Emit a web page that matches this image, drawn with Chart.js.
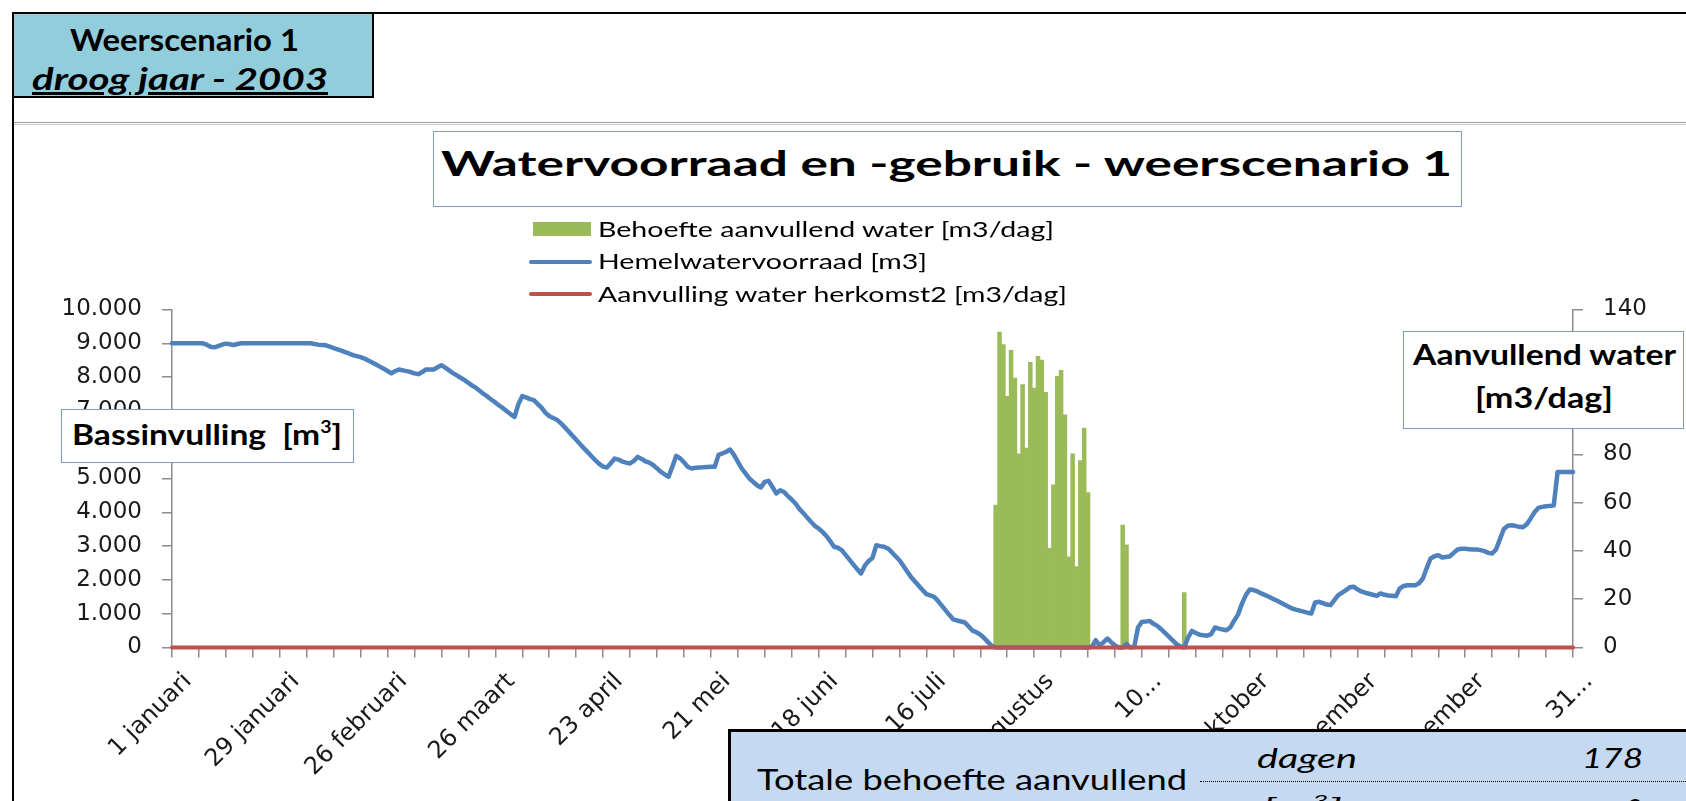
<!DOCTYPE html>
<html><head><meta charset="utf-8">
<script src="https://cdn.jsdelivr.net/npm/chart.js@4.4.1/dist/chart.umd.min.js"></script>
<style>
html,body{margin:0;padding:0;background:#fff;}
body{width:1686px;height:801px;position:relative;overflow:hidden;font-family:Lato,"Noto Sans",sans-serif;}
#c{position:absolute;left:0;top:0;width:1686px;height:801px;}
.abs{position:absolute;box-sizing:border-box;}
.t{position:absolute;white-space:nowrap;line-height:1;transform-origin:0 0;color:#000;}
.b{font-weight:700;}
.i{font-style:italic;}
sup{font-size:58%;line-height:0;vertical-align:0.75em;}
.box{position:absolute;box-sizing:border-box;background:#fff;border:1.5px solid #7C9BCB;}
</style></head><body>
<canvas id="c" width="1686" height="801"></canvas>

<!-- sheet frame -->
<div class="abs" style="left:12px;top:12px;width:1674px;height:2px;background:#000"></div>
<div class="abs" style="left:12px;top:12px;width:2px;height:789px;background:#000"></div>
<div class="abs" style="left:14px;top:122px;width:1672px;height:1px;background:#9C9C9C"></div>
<div class="abs" style="left:14px;top:124px;width:1672px;height:1px;background:#C8C8C8"></div>

<!-- scenario box -->
<div class="abs" style="left:12px;top:12px;width:362px;height:86px;border:2px solid #000;background:#92CDDC"></div>
<span class="t b" style="font-size:31px" data-x="70" data-b="51" data-w="229">Weerscenario 1</span>
<span class="t b i" style="font-size:30px;text-decoration:underline" data-x="32" data-b="89.5" data-w="296">droog jaar - 2003</span>

<!-- title -->
<div class="box" style="left:433px;top:131px;width:1029px;height:76px"></div>
<span class="t b" style="font-size:35px" data-x="441" data-b="175.5" data-w="1011">Watervoorraad en -gebruik - weerscenario 1</span>

<!-- legend -->
<div class="abs" style="left:532.5px;top:222px;width:58px;height:14px;background:#9BBB59"></div>
<div class="abs" style="left:529px;top:259.5px;width:63px;height:4px;background:#4F81BD;border-radius:2px"></div>
<div class="abs" style="left:529px;top:292px;width:63px;height:4px;background:#C0504D;border-radius:2px"></div>
<span class="t" style="font-size:21px" data-x="598" data-b="236.7" data-w="456">Behoefte aanvullend water [m3/dag]</span>
<span class="t" style="font-size:21px" data-x="598" data-b="269.2" data-w="329">Hemelwatervoorraad [m3]</span>
<span class="t" style="font-size:21px" data-x="598" data-b="301.7" data-w="469">Aanvulling water herkomst2 [m3/dag]</span>

<!-- axis titles -->
<div class="box" style="left:61px;top:409px;width:293px;height:54px"></div>
<span class="t b" style="font-size:28px" data-x="71.7" data-b="445" data-w="270">Bassinvulling&nbsp; [m<sup>3</sup>]</span>
<div class="box" style="left:1403px;top:331px;width:281px;height:98px"></div>
<span class="t b" style="font-size:28px" data-x="1413" data-b="365" data-w="263">Aanvullend water</span>
<span class="t b" style="font-size:28px" data-x="1475" data-b="408" data-w="138">[m3/dag]</span>

<!-- summary table -->
<div class="abs" style="left:728px;top:729px;width:960px;height:80px;border-top:3px solid #000;border-left:3px solid #000;background:#C5D9F1"></div>
<div class="abs" style="left:1200px;top:781px;width:486px;height:0;border-top:1.5px dotted #000"></div>
<span class="t" style="font-size:28px" data-x="757" data-b="790" data-w="430">Totale behoefte aanvullend</span>
<span class="t i" style="font-size:27px" data-x="1257" data-b="767.5" data-w="100">dagen</span>
<span class="t i" style="font-size:27px" data-x="1582" data-b="767.5" data-w="61">178</span>
<span class="t i" style="font-size:26px" data-x="1262" data-b="817" data-w="80">[m<sup>3</sup>]</span>
<span class="t i" style="font-size:26px" data-x="1626" data-b="817" data-w="16">0</span>

<script>
// ---------- data ----------
const monthNames = ['januari','februari','maart','april','mei','juni','juli','augustus','september','oktober','november','december'];
const monthDays = [31,28,31,30,31,30,31,31,30,31,30,31];
const categories = [];
monthNames.forEach((m, mi) => { for (let d = 1; d <= monthDays[mi]; d++) categories.push(d + ' ' + m); });

const tickLabels = ['1 januari','29 januari','26 februari','26 maart','23 april','21 mei','18 juni','16 juli','13 augustus','10...','8 oktober','5 november','3 december','31...'];

const seriesNames = ['Behoefte aanvullend water [m3/dag]','Hemelwatervoorraad [m3]','Aanvulling water herkomst2 [m3/dag]'];

// Hemelwatervoorraad [m3], one value per day
const hemelwatervoorraad = [
 9000,9000,9000,9000,9000,9000,9000,9000,9000,8960,
 8900,8880,8920,8960,8990,8970,8950,8980,9000,9000,
 9000,9000,9000,9000,9000,9000,9000,9000,9000,9000,
 9000,9000,9000,9000,9000,9000,9000,8980,8960,8950,
 8940,8900,8860,8820,8780,8740,8700,8650,8620,8590,
 8550,8490,8430,8370,8310,8250,8180,8110,8180,8226,
 8200,8176,8150,8110,8087,8150,8226,8226,8226,8290,
 8353,8280,8200,8120,8050,7980,7909,7830,7750,7680,
 7590,7500,7420,7330,7250,7160,7080,6990,6900,6823,
 7200,7436,7400,7350,7318,7210,7100,6950,6850,6790,
 6740,6640,6520,6400,6270,6150,6020,5900,5780,5660,
 5540,5430,5350,5326,5450,5590,5560,5500,5470,5444,
 5520,5640,5580,5510,5470,5400,5300,5200,5120,5048,
 5350,5670,5600,5480,5350,5297,5320,5326,5330,5340,
 5345,5345,5700,5740,5790,5858,5700,5500,5300,5150,
 5000,4900,4800,4734,4900,4930,4750,4557,4654,4600,
 4480,4380,4260,4100,3980,3850,3720,3600,3520,3420,
 3300,3150,2980,2950,2880,2740,2600,2460,2320,2190,
 2420,2560,2650,3027,3000,2980,2930,2820,2700,2583,
 2420,2250,2089,1960,1830,1700,1580,1540,1500,1380,
 1240,1100,960,830,800,770,740,620,500,450,
 380,280,160,50,0,0,0,0,0,0,
 0,0,0,0,0,0,0,0,0,0,
 0,0,0,0,0,0,0,0,0,20,
 216,60,150,266,160,60,0,0,110,0,
 20,600,758,770,787,700,640,540,430,320,
 210,100,30,0,300,491,430,380,364,350,
 394,592,560,530,512,600,800,980,1300,1550,
 1716,1700,1660,1600,1550,1500,1440,1390,1330,1270,
 1210,1154,1120,1090,1060,1030,1006,1330,1351,1310,
 1270,1253,1400,1548,1620,1700,1780,1800,1720,1660,
 1620,1590,1560,1527,1600,1560,1540,1530,1518,1750,
 1820,1840,1843,1843,1900,2042,2350,2633,2700,2731,
 2663,2680,2693,2800,2900,2920,2920,2910,2900,2900,
 2880,2850,2800,2781,2900,3200,3500,3600,3619,3600,
 3570,3560,3650,3820,4000,4130,4161,4180,4190,4200,
 5196,5196,5196,5196,5196
];

// Aanvulling water herkomst2 [m3/dag], one value per day
const herkomst2 = [
 0,0,0,0,0,0,0,0,0,0, 0,0,0,0,0,0,0,0,0,0, 0,0,0,0,0,0,0,0,0,0, 0,0,0,0,0,0,0,0,0,0,
 0,0,0,0,0,0,0,0,0,0, 0,0,0,0,0,0,0,0,0,0, 0,0,0,0,0,0,0,0,0,0, 0,0,0,0,0,0,0,0,0,0,
 0,0,0,0,0,0,0,0,0,0, 0,0,0,0,0,0,0,0,0,0, 0,0,0,0,0,0,0,0,0,0, 0,0,0,0,0,0,0,0,0,0,
 0,0,0,0,0,0,0,0,0,0, 0,0,0,0,0,0,0,0,0,0, 0,0,0,0,0,0,0,0,0,0, 0,0,0,0,0,0,0,0,0,0,
 0,0,0,0,0,0,0,0,0,0, 0,0,0,0,0,0,0,0,0,0, 0,0,0,0,0,0,0,0,0,0, 0,0,0,0,0,0,0,0,0,0,
 0,0,0,0,0,0,0,0,0,0, 0,0,0,0,0,0,0,0,0,0, 0,0,0,0,0,0,0,0,0,0, 0,0,0,0,0,0,0,0,0,0,
 0,0,0,0,0,0,0,0,0,0, 0,0,0,0,0,0,0,0,0,0, 0,0,0,0,0,0,0,0,0,0, 0,0,0,0,0,0,0,0,0,0,
 0,0,0,0,0,0,0,0,0,0, 0,0,0,0,0,0,0,0,0,0, 0,0,0,0,0,0,0,0,0,0, 0,0,0,0,0,0,0,0,0,0,
 0,0,0,0,0,0,0,0,0,0, 0,0,0,0,0,0,0,0,0,0, 0,0,0,0,0,0,0,0,0,0, 0,0,0,0,0,0,0,0,0,0,
 0,0,0,0,0
];

// Behoefte aanvullend water [m3/dag]: days (index from 1 januari) and values
const behoefteDays = [214,215,216,217,218,219,220,221,222,223,224,225,226,227,228,229,230,231,232,233,234,235,236,237,238,247,248,263];
const behoefteValues = [59,130.6,125.5,104,123.1,111.6,80.2,108.9,82.6,118.1,107.5,120.6,119,105.7,41.1,67.4,112.3,114.8,96.4,37.6,80.2,33.5,77.4,90.9,64.2,50.7,42.5,22.7];

// ---------- chart ----------
const behoefte = categories.map(() => null);
behoefteDays.forEach((d, i) => { behoefte[d] = behoefteValues[i]; });

const fmtNL = v => String(v).replace(/\B(?=(\d{3})+(?!\d))/g, '.');
const axisGrey = '#8C8C8C';
const tickColor = '#1a1a1a';

new Chart(document.getElementById('c').getContext('2d'), {
  data: {
    labels: categories,
    datasets: [
      {type:'line', label:seriesNames[2], data:herkomst2, yAxisID:'y1', borderColor:'#C0504D', backgroundColor:'#C0504D',
       borderWidth:4, pointRadius:0, order:0, clip:false, borderCapStyle:'round'},
      {type:'line', label:seriesNames[1], data:hemelwatervoorraad, yAxisID:'y', borderColor:'#4F81BD', backgroundColor:'#4F81BD',
       borderWidth:4.5, pointRadius:0, order:1, clip:false, borderJoinStyle:'round', borderCapStyle:'round', tension:0},
      {type:'bar', label:seriesNames[0], data:behoefte, yAxisID:'y1', backgroundColor:'#9BBB59', borderWidth:0,
       barPercentage:1, categoryPercentage:1, order:2}
    ]
  },
  options: {
    responsive:false, animation:false, events:[],
    layout:{padding:{top:309.5, left:0, right:0, bottom:0}},
    plugins:{legend:{display:false}, tooltip:{enabled:false}, title:{display:false}},
    scales:{
      x:{
        type:'category', offset:false,
        grid:{offset:false, drawOnChartArea:false, drawTicks:true, tickLength:10, lineWidth:1.5,
              color:c => (c.index % 7 === 0 ? axisGrey : 'rgba(0,0,0,0)')},
        border:{display:true, color:axisGrey, width:1.5},
        ticks:{autoSkip:false, maxRotation:45, minRotation:45, padding:10, labelOffset:16, color:tickColor,
               font:{family:'DejaVu Sans', size:24},
               callback:(v, i) => (i % 28 === 0 ? tickLabels[i / 28] : '')},
        afterFit:s => { s.height = 153.5; }
      },
      y:{
        position:'left', min:0, max:10000,
        grid:{drawOnChartArea:false, tickLength:10, lineWidth:1.5, color:axisGrey},
        border:{display:true, color:axisGrey, width:1.5},
        ticks:{stepSize:1000, padding:20, color:tickColor, font:{family:'DejaVu Sans', size:23}, callback:v => fmtNL(v)},
        afterFit:s => { s.width = 172; }
      },
      y1:{
        position:'right', min:0, max:140,
        grid:{drawOnChartArea:false, tickLength:10, lineWidth:1.5, color:axisGrey},
        border:{display:true, color:axisGrey, width:1.5},
        ticks:{stepSize:20, padding:20, color:tickColor, font:{family:'DejaVu Sans', size:23}},
        afterFit:s => { s.width = 113; }
      }
    }
  }
});

// ---------- place overlay texts (baseline + width) ----------
function placeTexts() {
  document.querySelectorAll('.t').forEach(el => {
    el.style.transform = 'none';
    el.style.left = el.dataset.x + 'px';
    el.style.top = '0px';
    let m = el.querySelector('.bl');
    if (!m) {
      m = document.createElement('span');
      m.className = 'bl';
      m.style.cssText = 'display:inline-block;width:0;height:0;vertical-align:baseline';
      el.appendChild(m);
    }
    const r = el.getBoundingClientRect();
    const off = m.getBoundingClientRect().top - r.top;
    el.style.top = (parseFloat(el.dataset.b) - off) + 'px';
    const w = parseFloat(el.dataset.w);
    if (w && r.width > 0) el.style.transform = 'scaleX(' + (w / r.width) + ')';
  });
}
placeTexts();
if (document.fonts && document.fonts.ready) document.fonts.ready.then(placeTexts);
</script>
</body></html>
